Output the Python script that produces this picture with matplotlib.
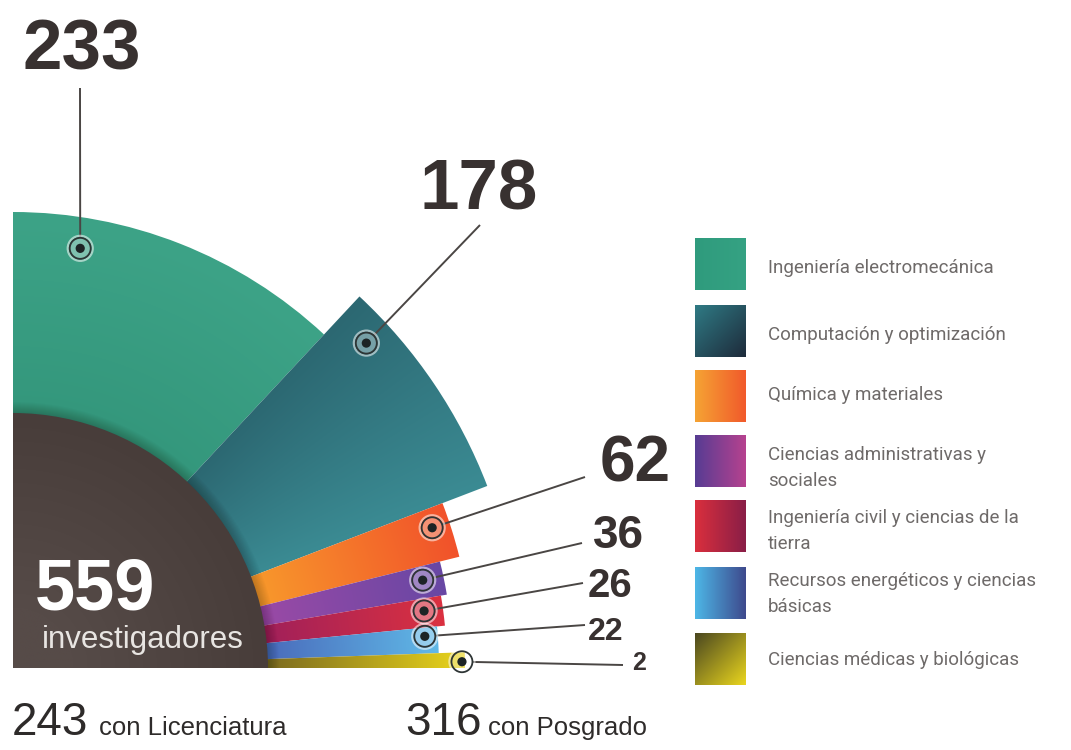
import numpy as np
import matplotlib
matplotlib.use("Agg")
import matplotlib.pyplot as plt
from matplotlib.patches import Wedge, Circle, Rectangle
from matplotlib.colors import LinearSegmentedColormap

# ---------------- data ----------------
categories = [
    "Ingeniería electromecánica",
    "Computación y optimización",
    "Química y materiales",
    "Ciencias administrativas y\nsociales",
    "Ingeniería civil y ciencias de la\ntierra",
    "Recursos energéticos y ciencias\nbásicas",
    "Ciencias médicas y biológicas",
]
values = [233, 178, 62, 36, 26, 22, 2]
total_investigadores = 559
con_licenciatura = 243
con_posgrado = 316

# ---------------- layout (pixel units) ----------------
center = (13, 668)
inner_r = 255
span_deg = [43, 26, 7, 4.4, 4.0, 3.6, 2.0]          # angular width of each sector
outer_r = [456, 508, 460, 440, 434, 426, 452]         # outer radius of each sector
marker_ang = [80.9, 42.6, 18.5, 12.1, 7.9, 4.4, 0.8]
marker_r = [425, 480, 442, 419, 415, 413, 449]
label_xy = [(82, 70), (420, 210), (600, 482), (593, 548), (588, 597), (588, 640), (632, 670)]
label_ha = ["center", "left", "left", "left", "left", "left", "left"]
label_size = [51, 51, 46, 33, 29, 23, 18]
leader_start = [(80, 88), (480, 225), (585, 477), (582, 543), (583, 583), (585, 625), (623, 665)]

# sector gradients (inner -> outer, or angular)
sector_grad = [
    ("radial", "#34977C", "#3DA387"),
    ("angular", "#3B8B93", "#2C6872"),
    ("radial", "#F8992C", "#F1522A"),
    ("radial", "#9A4AA6", "#6847A4"),
    ("radial", "#A1205A", "#DB3140"),
    ("radial", "#4A6CBC", "#60B9E7"),
    ("radial", "#7C6B20", "#E9D41B"),
]
swatch_grad = [
    ("x", "#2F9B7D", "#35A283"),
    ("diag", "#2F7A84", "#1E2B3B"),
    ("x", "#F5A334", "#F15A2B"),
    ("x", "#573C93", "#B6428F"),
    ("x", "#D92F3D", "#8A1E47"),
    ("x", "#4DB6E6", "#3E4A8D"),
    ("diag", "#4B4820", "#E9D51E"),
]
swatch_tops = [238, 305, 370, 435, 500, 567, 633]
legend_text_y = [268, 335, 395, 455, 518, 581, 660]

TEXT_DARK = "#383130"

fig = plt.figure(figsize=(10.71, 7.5), dpi=100)
ax = fig.add_axes([0, 0, 1, 1])
ax.set_xlim(0, 1071)
ax.set_ylim(750, 0)
ax.axis("off")


def gradient_fill(patch, mode, c0, c1, extent, zorder, rng=None):
    ax.add_patch(patch)
    x0, x1, y0, y1 = extent
    nx, ny = int(x1 - x0) + 2, int(y1 - y0) + 2
    X, Y = np.meshgrid(np.linspace(x0, x1, nx), np.linspace(y0, y1, ny))
    cx, cy = center
    if mode == "radial":
        t = np.hypot(X - cx, Y - cy)
    elif mode == "angular":
        t = np.degrees(np.arctan2(cy - Y, X - cx))
    elif mode == "x":
        t = X
    else:  # diag
        t = (X - x0) + (Y - y0)
    lo, hi = rng if rng is not None else (t.min(), t.max())
    t = np.clip((t - lo) / (hi - lo), 0, 1)
    cmap = LinearSegmentedColormap.from_list("g", [c0, c1])
    im = ax.imshow(t, cmap=cmap, vmin=0, vmax=1, extent=(x0, x1, y0, y1),
                   origin="lower", interpolation="bilinear", zorder=zorder,
                   aspect="auto")
    im.set_clip_path(patch)


# ---------------- sectors ----------------
a_hi = 90.0
cx, cy = center
for i, (span, r) in enumerate(zip(span_deg, outer_r)):
    a_lo = a_hi - span
    w = Wedge(center, r, -a_hi, -a_lo, facecolor="none", edgecolor="none", zorder=2)
    mode, c0, c1 = sector_grad[i]
    ext = (cx - 2, cx + r + 2, cy - r - 2, cy + 2)
    if mode == "radial":
        gradient_fill(w, mode, c0, c1, ext, 2, rng=(inner_r, r))
    else:
        gradient_fill(w, mode, c0, c1, ext, 2, rng=(a_lo, a_hi))
    a_hi = a_lo

# soft shadow of the central quarter disc
for k in range(12):
    ax.add_patch(Wedge(center, inner_r + k, -90, 0, facecolor="black",
                       edgecolor="none", alpha=0.02, zorder=3))

# central dark quarter disc
disc = Wedge(center, inner_r, -90, 0, facecolor="none", edgecolor="none", zorder=4)
gradient_fill(disc, "radial", "#564B48", "#483D3A",
              (cx - 1, cx + inner_r + 1, cy - inner_r - 1, cy + 1), 4,
              rng=(60, inner_r))

ax.text(35, 610, f"{total_investigadores}", color="white", fontsize=52,
        fontweight="bold", family="Liberation Sans", ha="left", va="baseline", zorder=6)
ax.text(42, 648, "investigadores", color="#E8E5E2", fontsize=22.5,
        family="Liberation Sans", ha="left", va="baseline", zorder=6)

# ---------------- markers, leaders, labels ----------------
for i in range(len(values)):
    a = np.radians(marker_ang[i])
    mx = cx + marker_r[i] * np.cos(a)
    my = cy - marker_r[i] * np.sin(a)
    sx, sy = leader_start[i]
    d = np.hypot(sx - mx, sy - my)
    ex, ey = mx + (sx - mx) / d * 11, my + (sy - my) / d * 11
    ax.plot([sx, ex], [sy, ey], color="#4A4644", lw=1.4, zorder=5,
            solid_capstyle="butt")
    ax.add_patch(Circle((mx, my), 12.5, facecolor="none", edgecolor="white",
                        lw=1.6, alpha=0.55, zorder=5))
    ax.add_patch(Circle((mx, my), 10.5, facecolor=(1, 1, 1, 0.35),
                        edgecolor="#2E3535", lw=1.3, zorder=5))
    ax.add_patch(Circle((mx, my), 4.6, facecolor="#1D2425", edgecolor="none", zorder=6))
    lx, ly = label_xy[i]
    ax.text(lx, ly, f"{values[i]}", fontsize=label_size[i], fontweight="bold",
            color=TEXT_DARK, family="Liberation Sans", ha=label_ha[i],
            va="baseline", zorder=6)

# ---------------- legend ----------------
for i, lab in enumerate(categories):
    top = swatch_tops[i]
    rect = Rectangle((695, top), 51, 52, facecolor="none", edgecolor="none", zorder=2)
    mode, c0, c1 = swatch_grad[i]
    gradient_fill(rect, mode, c0, c1, (695, 746, top, top + 52), 2)
    for j, line in enumerate(lab.split("\n")):
        ax.text(768, legend_text_y[i] + 26 * j, line, fontsize=13.5, color="#6E6A69",
                family="Roboto", ha="left", va="center", zorder=6)

# ---------------- bottom summary ----------------
ax.text(12, 735, f"{con_licenciatura}", fontsize=33, color="#2E2B2A",
        family="Liberation Sans", ha="left", va="baseline")
ax.text(99, 735, "con Licenciatura", fontsize=18.5, color="#2E2B2A",
        family="Liberation Sans", ha="left", va="baseline")
ax.text(405, 735, f"{con_posgrado}", fontsize=33, color="#2E2B2A",
        family="Liberation Sans", ha="left", va="baseline")
ax.text(488, 735, "con Posgrado", fontsize=18.5, color="#2E2B2A",
        family="Liberation Sans", ha="left", va="baseline")

fig.savefig("out.png", dpi=100, facecolor="white")
